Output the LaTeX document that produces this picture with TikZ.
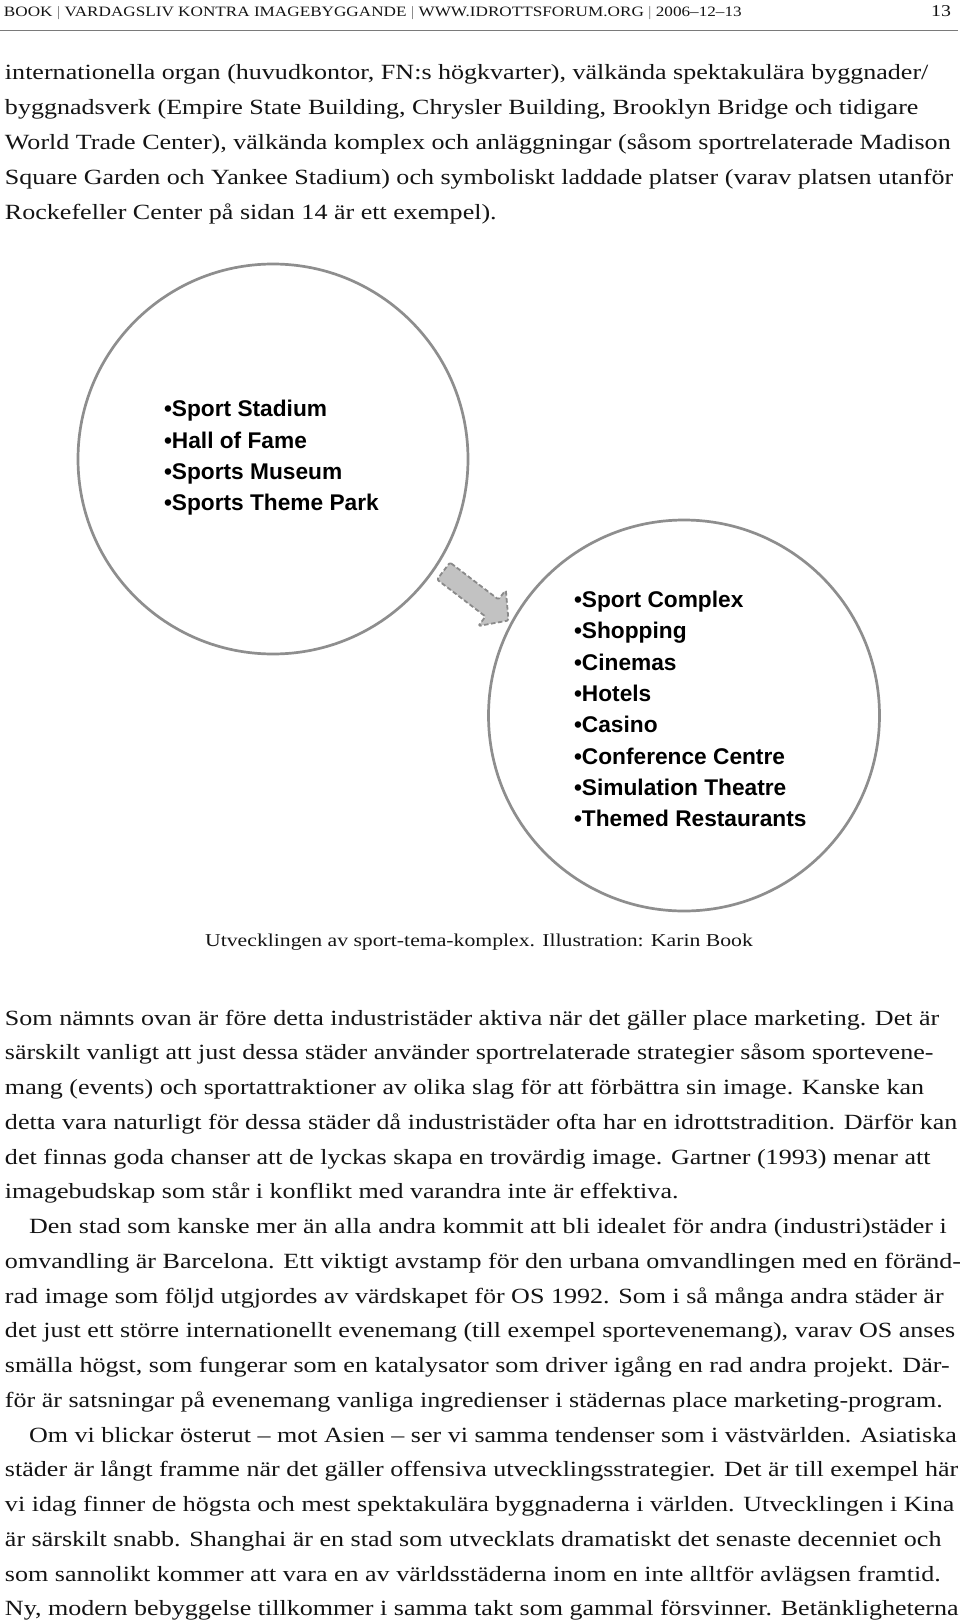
\documentclass[tikz,border=0pt]{standalone}
\usepackage{fontspec}
\setmainfont{Liberation Serif}[FakeStretch=1.2]
\newfontfamily\figfont{Liberation Sans}
\definecolor{ringgray}{HTML}{8E8E8E}
\definecolor{arrowfill}{HTML}{C2C2C2}
\definecolor{arrowline}{HTML}{8A8A8A}
\definecolor{inkcol}{HTML}{141414}
\definecolor{rulegray}{HTML}{7A7A7A}
\tikzset{
  bodyline/.style={anchor=base west, inner sep=0pt, outer sep=0pt, text=inkcol,
    font=\fontsize{21.7}{34.75}\selectfont},
  headline/.style={anchor=base west, inner sep=0pt, outer sep=0pt, text=inkcol,
    font=\fontsize{14.3}{16}\selectfont},
  pagenum/.style={anchor=base east, inner sep=0pt, outer sep=0pt, text=inkcol,
    font=\fontsize{16.5}{18}\selectfont},
  captionline/.style={anchor=base, inner sep=0pt, outer sep=0pt, text=inkcol,
    font=\fontsize{18.1}{22}\selectfont},
  ring/.style={circle, draw=ringgray, line width=2.7pt, inner sep=0pt, fill=none},
  figitem/.style={anchor=base west, inner sep=0pt, outer sep=0pt, text=black,
    font=\figfont\bfseries\fontsize{22.7}{31.3}\selectfont},
  blockarrow/.style={fill=arrowfill, draw=arrowline, line width=1.8pt,
    dash pattern=on 4.5pt off 2.5pt, rounded corners=1.5pt, line join=round}
}
\newcommand\BodyLine[4]{\node[bodyline] (#1) at (#2,#3) {#4};}
\newcommand\FigItem[4]{\node[figitem] (#1) at (#2,#3) {#4};}
\begin{document}
\begin{tikzpicture}[x=1pt,y=-1pt]
\useasboundingbox (0,0) rectangle (960,1624);
\fill[white] (0,0) rectangle (960,1624);

% header
\node[headline] (head) at (4,16.7) {BOOK {\color{rulegray}|} VARDAGSLIV KONTRA IMAGEBYGGANDE {\color{rulegray}|} WWW.IDROTTSFORUM.ORG {\color{rulegray}|} 2006–12–13};
\node[pagenum] (pnum) at (951,16.7) {13};
\coordinate (ruleL) at (0,31);
\coordinate (ruleR) at (958,31);
\draw[rulegray, line width=1pt] (ruleL) -- (ruleR);

% top paragraph
\BodyLine{t1}{5}{80}{internationella organ (huvudkontor, FN:s högkvarter), välkända spektakulära byggnader/}
\BodyLine{t2}{5}{114.9}{byggnadsverk (Empire State Building, Chrysler Building, Brooklyn Bridge och tidigare}
\BodyLine{t3}{5}{149.8}{World Trade Center), välkända komplex och anläggningar (såsom sportrelaterade Madison}
\BodyLine{t4}{5}{184.7}{Square Garden och Yankee Stadium) och symboliskt laddade platser (varav platsen utanför}
\BodyLine{t5}{5}{219.6}{Rockefeller Center på sidan 14 är ett exempel).}

% figure
\node[ring, minimum size=390pt] (leftc) at (273,459) {};
\node[ring, minimum size=391pt] (rightc) at (684,715.5) {};

\FigItem{a1}{164}{416.7}{•Sport Stadium}
\FigItem{a2}{164}{448.0}{•Hall of Fame}
\FigItem{a3}{164}{479.3}{•Sports Museum}
\FigItem{a4}{164}{510.6}{•Sports Theme Park}

\FigItem{b1}{574}{607.3}{•Sport Complex}
\FigItem{b2}{574}{638.6}{•Shopping}
\FigItem{b3}{574}{670.0}{•Cinemas}
\FigItem{b4}{574}{701.3}{•Hotels}
\FigItem{b5}{574}{732.7}{•Casino}
\FigItem{b6}{574}{764.0}{•Conference Centre}
\FigItem{b7}{574}{795.4}{•Simulation Theatre}
\FigItem{b8}{574}{826.7}{•Themed Restaurants}

\draw[blockarrow] (450,562.5) -- (498.5,599.5) -- (505.8,589.9) -- (508.5,620.5)
  -- (478.3,626.0) -- (485.5,616.5) -- (437,579.5) -- cycle;

\node[captionline] (cap) at (479,946.7) {Utvecklingen av sport-tema-komplex. Illustration: Karin Book};

% paragraph A
\BodyLine{p1}{5}{1025.0}{Som nämnts ovan är före detta industristäder aktiva när det gäller place marketing. Det är}
\BodyLine{p2}{5}{1059.75}{särskilt vanligt att just dessa städer använder sportrelaterade strategier såsom sportevene-}
\BodyLine{p3}{5}{1094.5}{mang (events) och sportattraktioner av olika slag för att förbättra sin image. Kanske kan}
\BodyLine{p4}{5}{1129.25}{detta vara naturligt för dessa städer då industristäder ofta har en idrottstradition. Därför kan}
\BodyLine{p5}{5}{1164.0}{det finnas goda chanser att de lyckas skapa en trovärdig image. Gartner (1993) menar att}
\BodyLine{p6}{5}{1198.75}{imagebudskap som står i konflikt med varandra inte är effektiva.}
% paragraph B
\BodyLine{q1}{29}{1233.5}{Den stad som kanske mer än alla andra kommit att bli idealet för andra (industri)städer i}
\BodyLine{q2}{5}{1268.25}{omvandling är Barcelona. Ett viktigt avstamp för den urbana omvandlingen med en föränd-}
\BodyLine{q3}{5}{1303.0}{rad image som följd utgjordes av värdskapet för OS 1992. Som i så många andra städer är}
\BodyLine{q4}{5}{1337.75}{det just ett större internationellt evenemang (till exempel sportevenemang), varav OS anses}
\BodyLine{q5}{5}{1372.5}{smälla högst, som fungerar som en katalysator som driver igång en rad andra projekt. Där-}
\BodyLine{q6}{5}{1407.25}{för är satsningar på evenemang vanliga ingredienser i städernas place marketing-program.}
% paragraph C
\BodyLine{r1}{29}{1442.0}{Om vi blickar österut – mot Asien – ser vi samma tendenser som i västvärlden. Asiatiska}
\BodyLine{r2}{5}{1476.75}{städer är långt framme när det gäller offensiva utvecklingsstrategier. Det är till exempel här}
\BodyLine{r3}{5}{1511.5}{vi idag finner de högsta och mest spektakulära byggnaderna i världen. Utvecklingen i Kina}
\BodyLine{r4}{5}{1546.25}{är särskilt snabb. Shanghai är en stad som utvecklats dramatiskt det senaste decenniet och}
\BodyLine{r5}{5}{1581.0}{som sannolikt kommer att vara en av världsstäderna inom en inte alltför avlägsen framtid.}
\BodyLine{r6}{5}{1615.75}{Ny, modern bebyggelse tillkommer i samma takt som gammal försvinner. Betänkligheterna}
\end{tikzpicture}
\end{document}
